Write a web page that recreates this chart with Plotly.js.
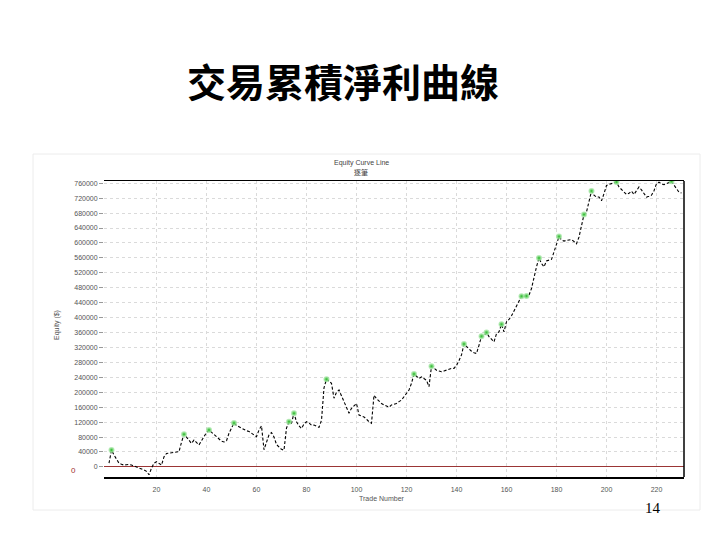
<!DOCTYPE html>
<html>
<head>
<meta charset="utf-8">
<script src="https://cdn.plot.ly/plotly-3.0.1.min.js"></script>
<style>
html,body{margin:0;padding:0;background:#fff;}
#chart{width:720px;height:540px;}
</style>
</head>
<body>
<div id="chart"></div>
<script>
// Trade number and cumulative net profit (equity)
const tradeNo = [];
for (let i = 1; i <= 230; i++) tradeNo.push(i);
const equity = [
  10000, 45000, 32000, 20000, 10000, 7000, 5000, 6000, 7000, 5000,
  2700, 0, -3500, -6000, -8000, -12000, -21000, -3500, 10000, 14000,
  9000, 5000, 27000, 36000, 37000, 38000, 39000, 40000, 41000, 66000,
  87500, 80000, 71000, 63000, 72000, 66000, 59000, 70000, 82000, 92000,
  99000, 93000, 88000, 82000, 76000, 69000, 67000, 70000, 90000, 105000,
  118000, 111000, 107000, 103000, 101000, 97000, 95000, 91000, 87000, 81000,
  99000, 110000, 46000, 68000, 86000, 92000, 80000, 60000, 52000, 47000,
  45000, 104000, 121000, 117000, 144000, 121000, 110000, 103000, 115000, 121000,
  118000, 112000, 112000, 110000, 106000, 125000, 212000, 235000, 229000, 224000,
  184000, 200000, 206000, 190000, 175000, 158000, 144000, 157000, 165000, 170000,
  139000, 136000, 134000, 128000, 121000, 117000, 192000, 183000, 175000, 170000,
  166000, 162000, 160000, 166000, 168000, 170000, 175000, 179000, 188000, 196000,
  206000, 224000, 249000, 243000, 237000, 241000, 236000, 232000, 215000, 270000,
  265000, 259000, 257000, 255000, 257000, 260000, 262000, 264000, 264000, 272000,
  285000, 300000, 329000, 322000, 316000, 310000, 306000, 304000, 326000, 350000,
  352000, 360000, 349000, 342000, 335000, 357000, 362000, 382000, 362000, 389000,
  395000, 405000, 418000, 429000, 440000, 457000, 457000, 458000, 460000, 478000,
  509000, 536000, 560000, 545000, 536000, 552000, 554000, 556000, 576000, 600000,
  617000, 608000, 605000, 607000, 608000, 609000, 604000, 598000, 616000, 643000,
  676000, 683000, 710000, 739000, 728000, 723000, 723000, 713000, 732000, 754000,
  757000, 759000, 761000, 763000, 750000, 743000, 737000, 730000, 733000, 739000,
  730000, 740000, 750000, 742000, 732000, 723000, 725000, 728000, 740000, 759000,
  763000, 758000, 756000, 759000, 762000, 765000, 755000, 745000, 736000, 734000
];
// Trades marking new equity highs (green dots)
const highTrades = [2, 31, 41, 51, 73, 75, 88, 123, 130, 143, 150, 152, 158, 166, 168, 173, 181, 191, 194, 204, 226];
const highEquity = highTrades.map(t => equity[tradeNo.indexOf(t)]);

const xTicks = [20, 40, 60, 80, 100, 120, 140, 160, 180, 200, 220];
const yTicks = [];
for (let v = 0; v <= 760000; v += 40000) yTicks.push(v);

const slideTitle = '交易累積淨利曲線';
const chartTitle1 = 'Equity Curve Line';
const chartTitle2 = '逐筆';
const xTitle = 'Trade Number';
const yTitle = 'Equity ($)';
const pageNo = '14';

const L = 104, R = 684, T = 181, B = 477, W = 720, H = 540;
const px = x => (x - L) / (R - L);
const py = y => (B - y) / (B - T);

const traces = [
  {
    x: tradeNo, y: equity, type: 'scatter', mode: 'lines',
    line: {color: '#000', width: 1.1, dash: '3px,2px'},
    hoverinfo: 'skip', showlegend: false
  },
  {
    x: highTrades, y: highEquity, type: 'scatter', mode: 'markers',
    marker: {color: '#3fbf3f', size: 4, line: {color: 'rgba(150,225,150,0.7)', width: 2}},
    hoverinfo: 'skip', showlegend: false
  }
];

const smallFont = {family: 'Liberation Sans, Arial, sans-serif', size: 7, color: '#555'};

const layout = {
  width: W, height: H,
  paper_bgcolor: '#fff', plot_bgcolor: '#fff',
  margin: {l: L, r: W - R, t: T, b: H - B, pad: 0},
  showlegend: false,
  xaxis: {
    range: [-1, 231],
    tickvals: xTicks, ticktext: xTicks.map(String),
    tickfont: smallFont,
    ticks: 'outside', ticklen: 5, tickcolor: 'rgba(0,0,0,0)',
    showgrid: true, gridcolor: '#dadada', griddash: 'dot', gridwidth: 1,
    showline: true, linecolor: '#000', linewidth: 1.5, mirror: true,
    zeroline: false
  },
  yaxis: {
    range: [-27000, 766000],
    tickvals: yTicks, ticktext: yTicks.map(String),
    tickfont: smallFont,
    ticks: 'outside', ticklen: 4, tickcolor: '#999',
    showgrid: true, gridcolor: '#dadada', griddash: 'dot', gridwidth: 1,
    showline: false,
    zeroline: true, zerolinecolor: '#9b3535', zerolinewidth: 1
  },
  shapes: [
    {type: 'line', xref: 'paper', yref: 'paper', x0: 1, x1: 1, y0: 0, y1: 1,
     line: {color: '#000', width: 1.5}},
    {type: 'rect', xref: 'paper', yref: 'paper',
     x0: px(33), x1: px(700), y0: py(510), y1: py(154),
     line: {color: '#ececec', width: 1}, layer: 'below'}
  ],
  annotations: [
    {text: '<b>' + slideTitle + '</b>', xref: 'paper', yref: 'paper',
     x: px(343), y: py(80), xanchor: 'center', yanchor: 'middle', showarrow: false,
     font: {family: 'Noto Sans CJK TC, Noto Sans CJK SC, sans-serif', size: 39, color: '#000'}},
    {text: chartTitle1, xref: 'paper', yref: 'paper',
     x: px(361), y: py(163), xanchor: 'center', yanchor: 'middle', showarrow: false,
     font: {family: 'Liberation Sans, Arial, sans-serif', size: 7, color: '#444'}},
    {text: chartTitle2, xref: 'paper', yref: 'paper',
     x: px(361), y: py(172), xanchor: 'center', yanchor: 'middle', showarrow: false,
     font: {family: 'Noto Sans CJK TC, sans-serif', size: 7, color: '#444'}},
    {text: xTitle, xref: 'paper', yref: 'paper',
     x: px(382), y: py(498), xanchor: 'center', yanchor: 'middle', showarrow: false,
     font: {family: 'Liberation Sans, Arial, sans-serif', size: 7, color: '#555'}},
    {text: yTitle, xref: 'paper', yref: 'paper', textangle: -90,
     x: px(57), y: py(325), xanchor: 'center', yanchor: 'middle', showarrow: false,
     font: {family: 'Liberation Sans, Arial, sans-serif', size: 7, color: '#555'}},
    {text: '0', xref: 'paper', yref: 'paper',
     x: px(73), y: py(470), xanchor: 'center', yanchor: 'middle', showarrow: false,
     font: {family: 'Liberation Sans, Arial, sans-serif', size: 8, color: '#a03030'}},
    {text: pageNo, xref: 'paper', yref: 'paper',
     x: px(653), y: py(508), xanchor: 'center', yanchor: 'middle', showarrow: false,
     font: {family: 'Liberation Serif, Times New Roman, serif', size: 15, color: '#000'}}
  ]
};

Plotly.newPlot('chart', traces, layout, {staticPlot: true, displayModeBar: false});
</script>
</body>
</html>
